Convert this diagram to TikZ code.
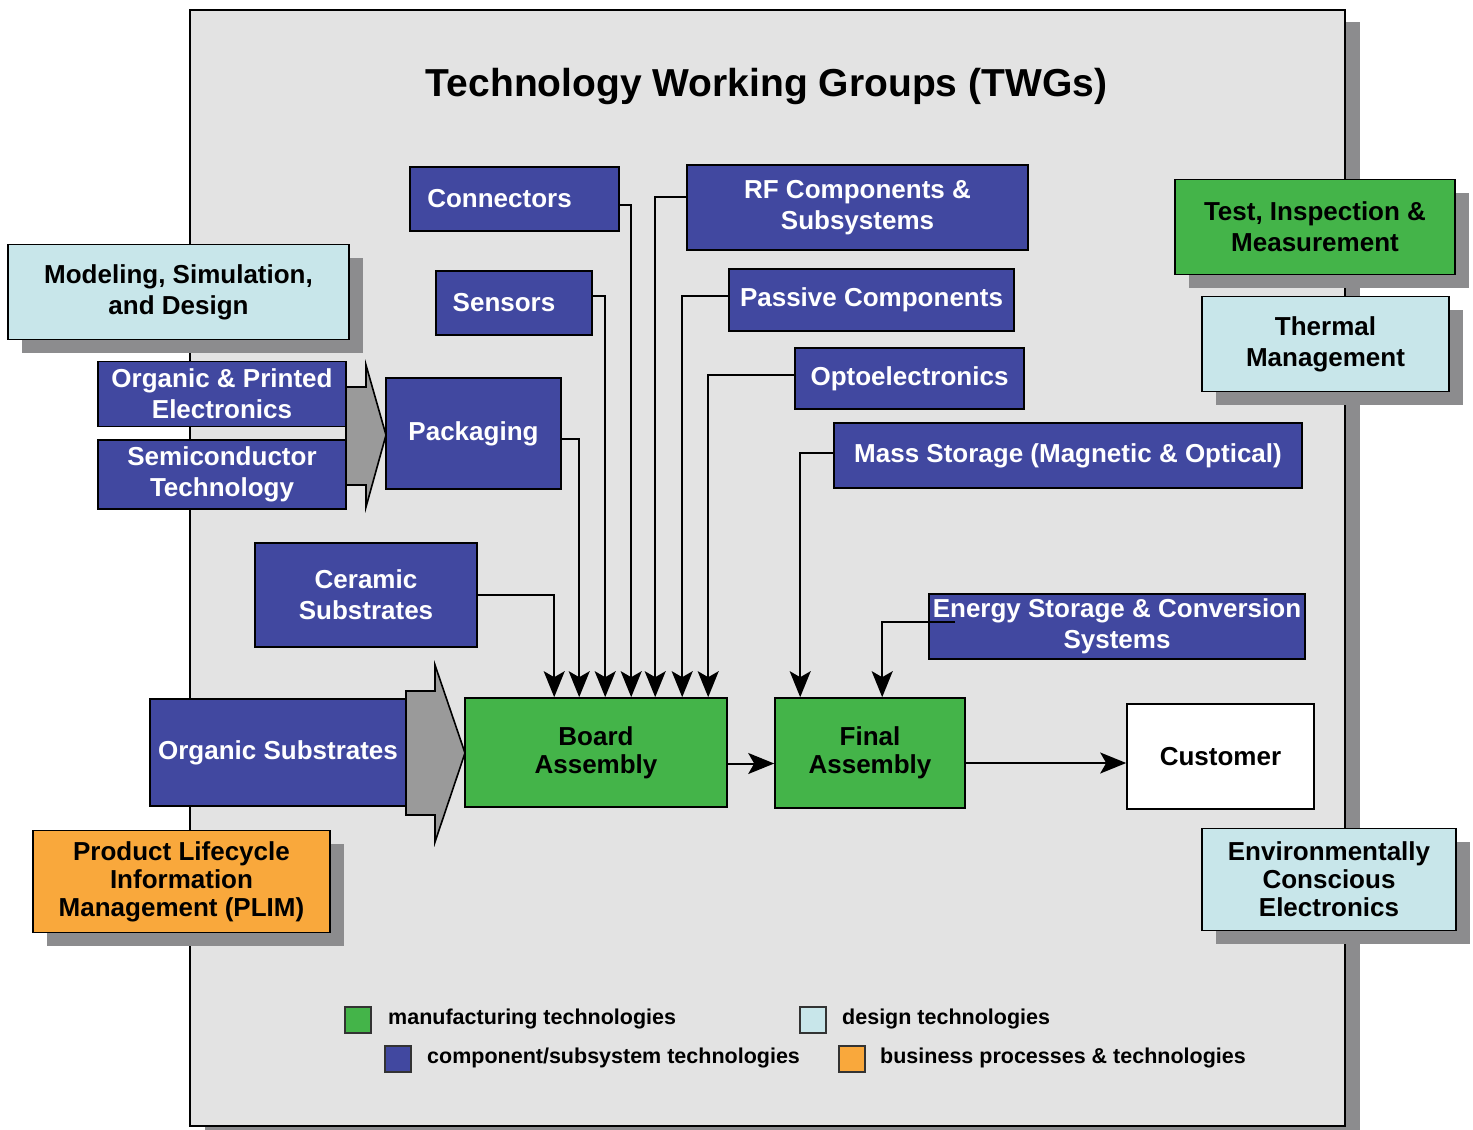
\documentclass[tikz,border=0pt]{standalone}
\usepackage{fontspec}
\setmainfont{Liberation Sans}
\usetikzlibrary{arrows.meta,shadows}

\definecolor{panelgray}{RGB}{227,227,227}
\definecolor{shadowgray}{RGB}{140,140,142}
\definecolor{arrowgray}{RGB}{154,154,154}
\definecolor{compblue}{RGB}{65,72,160}
\definecolor{mfggreen}{RGB}{68,180,73}
\definecolor{designcyan}{RGB}{200,230,234}
\definecolor{bizorange}{RGB}{249,168,60}

\begin{document}
\begin{tikzpicture}[x=1pt,y=-1pt,
  tw/.style={draw=black, line width=1.6pt, inner sep=0pt, align=center,
    font=\fontsize{26}{31}\selectfont\bfseries},
  tight/.style={font=\fontsize{26}{28}\selectfont\bfseries},
  compbox/.style={tw, fill=compblue, text=white},
  mfgbox/.style={tw, fill=mfggreen},
  designbox/.style={tw, fill=designcyan},
  bizbox/.style={tw, fill=bizorange},
  custbox/.style={tw, fill=white},
  castshadow/.style={general shadow={fill=shadowgray, shadow xshift=14pt, shadow yshift=-13pt}},
  feed/.style={line width=2pt, -{Stealth[length=26pt,width=21pt,inset=6pt]}},
  bigarrow/.style={fill=arrowgray, draw=black, line width=1.6pt, line join=miter},
  keybox/.style={draw=black!80, line width=1.2pt, minimum size=26pt, inner sep=0pt},
  keytext/.style={anchor=base west, inner sep=0pt, font=\fontsize{21.5}{24}\selectfont\bfseries}
]
\useasboundingbox (0,0) rectangle (1473,1130);

% background panel with its shadow
\fill[shadowgray] (205,22) rectangle (1360,1140);
\draw[fill=panelgray, line width=1.8pt] (190,10) rectangle (1345,1126);

\node[anchor=base, inner sep=0pt, font=\fontsize{39}{44}\selectfont\bfseries] (title)
  at (766.5,96) {Technology Working Groups (TWGs)};

% wide block arrows
\draw[bigarrow] (346,387) -- (366,387) -- (366,365) -- (386,435) -- (366,507)
  -- (366,485) -- (346,485) -- cycle;
\draw[bigarrow] (406,691) -- (435,691) -- (435,665) -- (465,753) -- (435,842)
  -- (435,815) -- (406,815) -- cycle;

% side groups (with drop shadows)
\node[designbox, castshadow, minimum width=341pt, minimum height=95pt] (modeling)
  at (178.5,292) {Modeling, Simulation,\\and Design};
\node[mfgbox, castshadow, minimum width=280pt, minimum height=95pt] (test)
  at (1315,227) {Test, Inspection \&\\Measurement};
\node[designbox, castshadow, minimum width=247pt, minimum height=95pt] (thermal)
  at (1325.5,344) {Thermal\\Management};
\node[designbox, castshadow, tight, minimum width=254pt, minimum height=102pt] (env)
  at (1329,879.5) {Environmentally\\Conscious\\Electronics};
\node[bizbox, castshadow, tight, minimum width=297pt, minimum height=102pt] (plim)
  at (181.5,881.5) {Product Lifecycle\\Information\\Management (PLIM)};

% component / subsystem groups
\node[compbox, minimum width=248pt, minimum height=65pt] (orgprint)
  at (222,394) {Organic \& Printed\\Electronics};
\node[compbox, minimum width=248pt, minimum height=69pt] (semi)
  at (222,474.5) {Semiconductor\\Technology};
\node[compbox, minimum width=175pt, minimum height=111pt] (packaging)
  at (473.5,433.5) {Packaging};
\node[compbox, minimum width=209pt, minimum height=64pt] (connectors)
  at (514.5,199) {\kern-30pt Connectors};
\node[compbox, minimum width=156pt, minimum height=64pt] (sensors)
  at (514,303) {\kern-20pt Sensors};
\node[compbox, minimum width=341pt, minimum height=85pt] (rf)
  at (857.5,207.5) {RF Components \&\\Subsystems};
\node[compbox, minimum width=285pt, minimum height=62pt] (passive)
  at (871.5,300) {Passive Components};
\node[compbox, minimum width=229pt, minimum height=61pt] (opto)
  at (909.5,378.5) {Optoelectronics};
\node[compbox, minimum width=468pt, minimum height=65pt] (mass)
  at (1068,455.5) {Mass Storage (Magnetic \& Optical)};
\node[compbox, minimum width=222pt, minimum height=104pt] (ceramic)
  at (366,595) {Ceramic\\Substrates};
\node[compbox, minimum width=256pt, minimum height=107pt] (orgsub)
  at (278,752.5) {Organic Substrates};
\node[compbox, minimum width=376pt, minimum height=65pt] (energy)
  at (1117,626.5) {Energy Storage \& Conversion\\Systems};

% assembly chain
\node[mfgbox, tight, minimum width=262pt, minimum height=109pt] (board)
  at (596,752.5) {Board\\Assembly};
\node[mfgbox, tight, minimum width=190pt, minimum height=110pt] (final)
  at (870,753) {Final\\Assembly};
\node[custbox, minimum width=187pt, minimum height=105pt] (customer)
  at (1220.5,756.5) {Customer};

% feeds into board assembly
\draw[feed] ([yshift=0pt]ceramic.east) -| ([xshift=90pt]board.north west);
\draw[feed] ([yshift=-5pt]packaging.east) -| ([xshift=115pt]board.north west);
\draw[feed] ([yshift=7pt]sensors.east) -| ([xshift=141pt]board.north west);
\draw[feed] ([yshift=-6pt]connectors.east) -| ([xshift=167pt]board.north west);
\draw[feed] ([yshift=11pt]rf.west) -| ([xshift=191pt]board.north west);
\draw[feed] ([yshift=4pt]passive.west) -| ([xshift=218pt]board.north west);
\draw[feed] ([yshift=4pt]opto.west) -| ([xshift=244pt]board.north west);

% feeds into final assembly
\draw[feed] ([yshift=3pt]mass.west) -| ([xshift=26pt]final.north west);
\coordinate (estart) at (955,622);
\draw[feed] (estart) -| ([xshift=108pt]final.north west);

% main flow
\coordinate (bout) at ([yshift=-11pt]board.east);
\draw[feed] (bout) -- (bout -| final.west);
\coordinate (fout) at ([yshift=-10pt]final.east);
\draw[feed] (fout) -- (fout -| customer.west);

% legend
\node[keybox, fill=mfggreen] (kmfg) at (358,1020) {};
\node[keytext] (tmfg) at (388,1024) {manufacturing technologies};
\node[keybox, fill=compblue] (kcomp) at (398,1059) {};
\node[keytext] (tcomp) at (427,1063) {component/subsystem technologies};
\node[keybox, fill=designcyan] (kdes) at (813,1020) {};
\node[keytext] (tdes) at (842,1024) {design technologies};
\node[keybox, fill=bizorange] (kbiz) at (852,1059) {};
\node[keytext] (tbiz) at (880,1063) {business processes \& technologies};
\end{tikzpicture}
\end{document}
